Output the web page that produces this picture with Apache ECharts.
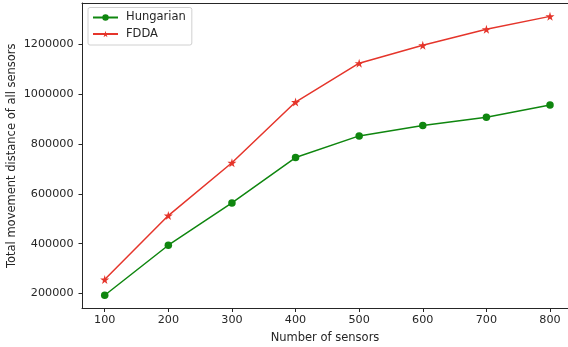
<!DOCTYPE html>
<html>
<head>
<meta charset="utf-8">
<script src="https://cdn.jsdelivr.net/npm/echarts@6/dist/echarts.min.js"></script>
<style>
html,body{margin:0;padding:0;background:#fff;}
#chart{width:568px;height:347px;}
</style>
</head>
<body>
<div id="chart"></div>
<script>
var sensors = [100, 200, 300, 400, 500, 600, 700, 800];
var hungarian = [193000, 394000, 564000, 746000, 833000, 875000, 908000, 957000];
var fdda = [256000, 513000, 725000, 969000, 1125000, 1197000, 1261000, 1313000];
var xTicks = [100, 200, 300, 400, 500, 600, 700, 800];
var yTicks = [200000, 400000, 600000, 800000, 1000000, 1200000];

var STAR = 'path://M50,0 L61,35 L98,35 L68,57 L79,91 L50,70 L21,91 L32,57 L2,35 L39,35 Z';
var font = 'DejaVu Sans';
var txt = '#262626';
var fs = 11.5;
var tfs = 11.2;

function pairs(xs, ys) { return xs.map(function (x, i) { return [x, ys[i]]; }); }
function plain(v) { return String(Math.round(v)); }

var chart = echarts.init(document.getElementById('chart'), null, {renderer: 'canvas'});
chart.setOption({
  animation: false,
  backgroundColor: '#fff',
  textStyle: {fontFamily: font},
  grid: {left: 82, right: 0, top: 3, bottom: 38.5, containLabel: false, outerBoundsMode: 'none'},
  legend: {
    left: 88, top: 7.5,
    orient: 'vertical',
    data: ['Hungarian', 'FDDA'],
    itemWidth: 25, itemHeight: 8, itemGap: 4.5,
    padding: [4, 6, 5, 4],
    borderColor: '#d0d0d0', borderWidth: 1, borderRadius: 2,
    backgroundColor: '#fff',
    textStyle: {fontFamily: font, fontSize: fs, color: txt, lineHeight: 12, padding: [0, 0, 0, 3]}
  },
  xAxis: [{
    type: 'value', min: 64.3, max: 828.3,
    name: 'Number of sensors', nameLocation: 'middle', nameGap: 24, nameMoveOverlap: false,
    nameTextStyle: {fontFamily: font, fontSize: fs, color: txt},
    axisLine: {show: true, onZero: false, lineStyle: {color: '#262626', width: 1}},
    axisTick: {show: true, length: 3.5, customValues: xTicks, lineStyle: {color: '#262626'}},
    axisLabel: {customValues: xTicks, formatter: plain, margin: 6, fontFamily: font, fontSize: tfs, color: txt},
    splitLine: {show: false}
  }, {
    type: 'value', position: 'top', min: 64.3, max: 828.3,
    axisLine: {show: true, onZero: false, lineStyle: {color: '#262626', width: 1}},
    axisTick: {show: false}, axisLabel: {show: false}, splitLine: {show: false}
  }],
  yAxis: {
    type: 'value', min: 139900, max: 1366700,
    name: 'Total movement distance of all sensors', nameLocation: 'middle', nameGap: 64, nameMoveOverlap: false,
    nameTextStyle: {fontFamily: font, fontSize: fs, color: txt},
    axisLine: {show: true, onZero: false, lineStyle: {color: '#262626', width: 1}},
    axisTick: {show: true, length: 3.5, customValues: yTicks, lineStyle: {color: '#262626'}},
    axisLabel: {customValues: yTicks, formatter: plain, margin: 8.5, fontFamily: font, fontSize: tfs, color: txt},
    splitLine: {show: false}
  },
  series: [{
    name: 'Hungarian', type: 'line', data: pairs(sensors, hungarian),
    symbol: 'circle', symbolSize: 7.5,
    lineStyle: {color: '#0f860f', width: 1.5},
    itemStyle: {color: '#0f860f'}
  }, {
    name: 'FDDA', type: 'line', data: pairs(sensors, fdda),
    symbol: STAR, symbolSize: 9,
    lineStyle: {color: '#e5352b', width: 1.5},
    itemStyle: {color: '#e5352b'}
  }]
});
</script>
</body>
</html>
